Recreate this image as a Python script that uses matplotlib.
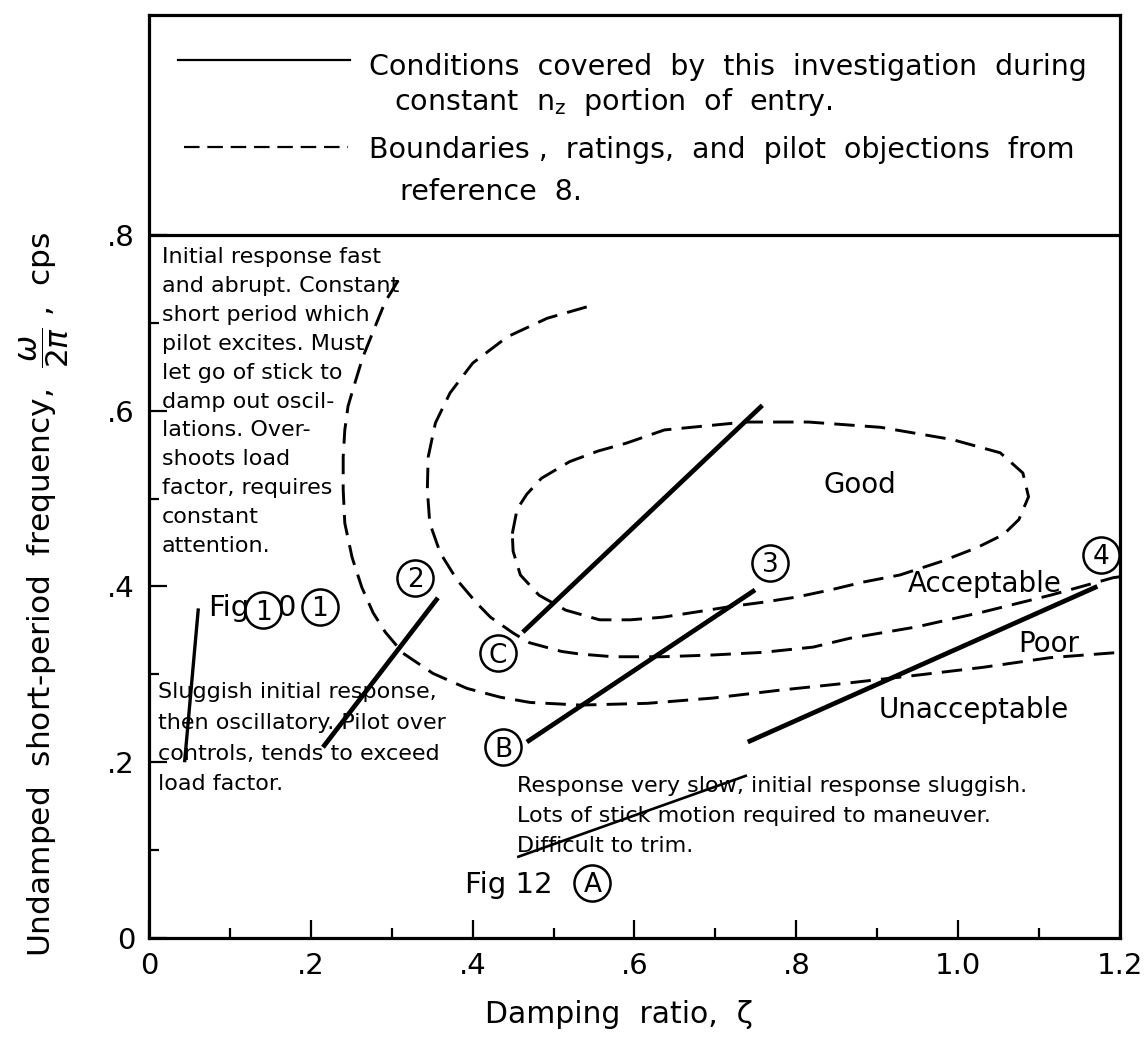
import matplotlib
matplotlib.use('Agg')
import matplotlib.pyplot as plt

plt.rcParams['font.family'] = ['DejaVu Sans']
plt.rcParams['mathtext.fontset'] = 'dejavusans'

# ---- Test-condition traces (solid lines): damping ratio vs frequency ----
trace_fig10_x = [0.044, 0.061]
trace_fig10_y = [0.200, 0.375]
trace_2_x = [0.215, 0.357]
trace_2_y = [0.217, 0.387]
trace_C_x = [0.462, 0.758]
trace_C_y = [0.348, 0.606]
trace_B_x = [0.467, 0.749]
trace_B_y = [0.223, 0.396]
trace_4_x = [0.740, 1.172]
trace_4_y = [0.223, 0.400]
trace_A_x = [0.455, 0.739]
trace_A_y = [0.092, 0.185]

# ---- Rating boundaries (dashed lines) ----
good_x = [0.449, 0.455, 0.467, 0.485, 0.520, 0.555, 0.590, 0.637, 0.737, 0.815,
          0.904, 0.993, 1.052, 1.080, 1.087, 1.075, 1.056, 1.023, 0.978, 0.928,
          0.883, 0.842, 0.801, 0.759, 0.718, 0.677, 0.635, 0.595, 0.557, 0.515,
          0.482, 0.459, 0.450, 0.449]
good_y = [0.460, 0.488, 0.505, 0.523, 0.542, 0.554, 0.563, 0.578, 0.587, 0.587,
          0.581, 0.567, 0.552, 0.529, 0.502, 0.476, 0.459, 0.444, 0.428, 0.413,
          0.405, 0.396, 0.388, 0.382, 0.377, 0.371, 0.365, 0.362, 0.362, 0.373,
          0.390, 0.413, 0.440, 0.460]

accept_x = [0.541, 0.492, 0.443, 0.400, 0.372, 0.354, 0.345, 0.344, 0.347, 0.360,
            0.381, 0.405, 0.422, 0.450, 0.470, 0.510, 0.533, 0.574, 0.635, 0.697,
            0.759, 0.821, 0.866, 0.949, 1.031, 1.114, 1.192, 1.200]
accept_y = [0.718, 0.705, 0.684, 0.654, 0.620, 0.586, 0.547, 0.510, 0.472, 0.438,
            0.407, 0.381, 0.365, 0.347, 0.336, 0.326, 0.323, 0.320, 0.320, 0.322,
            0.325, 0.331, 0.341, 0.354, 0.371, 0.390, 0.410, 0.411]

poor_x = [0.308, 0.292, 0.277, 0.264, 0.254, 0.246, 0.242, 0.240, 0.240, 0.242,
          0.251, 0.263, 0.277, 0.292, 0.314, 0.351, 0.393, 0.434, 0.471, 0.533,
          0.616, 0.697, 0.780, 0.863, 0.949, 1.031, 1.114, 1.200]
poor_y = [0.748, 0.724, 0.690, 0.660, 0.630, 0.605, 0.578, 0.547, 0.510, 0.472,
          0.433, 0.399, 0.370, 0.348, 0.324, 0.301, 0.284, 0.274, 0.268, 0.265,
          0.267, 0.273, 0.282, 0.290, 0.299, 0.308, 0.319, 0.325]

# ---- Axis ticks ----
x_ticks = [0.0, 0.2, 0.4, 0.6, 0.8, 1.0, 1.2]
x_tick_labels = ['0', '.2', '.4', '.6', '.8', '1.0', '1.2']
x_minor = [0.1, 0.3, 0.5, 0.7, 0.9, 1.1]
y_ticks = [0.0, 0.2, 0.4, 0.6, 0.8]
y_tick_labels = ['0', '.2', '.4', '.6', '.8']
y_minor = [0.1, 0.3, 0.5, 0.7]

# ---- Circled identifiers ----
circle_labels = ['1', '1', '2', '3', '4', 'C', 'B', 'A']
circle_x = [0.141, 0.211, 0.329, 0.768, 1.176, 0.431, 0.438, 0.548]
circle_y = [0.373, 0.377, 0.410, 0.427, 0.436, 0.324, 0.217, 0.063]

# ---- Pilot comment blocks ----
note_fast = ["Initial response fast",
             "and abrupt. Constant",
             "short period which",
             "pilot excites. Must",
             "let go of stick to",
             "damp out oscil-",
             "lations. Over-",
             "shoots load",
             "factor, requires",
             "constant",
             "attention."]
note_sluggish = ["Sluggish initial response,",
                 "then oscillatory. Pilot over",
                 "controls, tends to exceed",
                 "load factor."]
note_slow = ["Response very slow, initial response sluggish.",
             "Lots of stick motion required to maneuver.",
             "Difficult to trim."]

legend_lines = ["Conditions  covered  by  this  investigation  during",
                "constant  n$_{\\rm z}$  portion  of  entry.",
                "Boundaries ,  ratings,  and  pilot  objections  from",
                "reference  8."]

fig = plt.figure(figsize=(11.46, 10.44), dpi=100)
ax = fig.add_axes([0.130, 0.1015, 0.8473, 0.8841])
ax.set_xlim(0, 1.2)
ax.set_ylim(0, 1.050)

for s in ax.spines.values():
    s.set_linewidth(2.3)

dash = dict(color='black', lw=2.1, dashes=(7, 3.5))
ax.plot(good_x, good_y, **dash)
ax.plot(accept_x, accept_y, **dash)
ax.plot(poor_x, poor_y, **dash)

ax.plot(trace_fig10_x, trace_fig10_y, color='black', lw=2.4, solid_capstyle='butt')
for tx, ty in [(trace_2_x, trace_2_y), (trace_C_x, trace_C_y),
               (trace_B_x, trace_B_y), (trace_4_x, trace_4_y)]:
    ax.plot(tx, ty, color='black', lw=3.4, solid_capstyle='butt')
ax.plot(trace_A_x, trace_A_y, color='black', lw=1.9, solid_capstyle='butt')

# Legend panel above the plotting region
ax.axhline(0.8, color='black', lw=2.3)
ax.plot([0.036, 0.248], [0.999, 0.999], color='black', lw=1.6)
ax.plot([0.043, 0.246], [0.900, 0.900], color='black', lw=1.6, dashes=(7, 3.5))
leg_pos = [(0.272, 0.982), (0.303, 0.942), (0.272, 0.887), (0.310, 0.840)]
for txt, (lx, ly) in zip(legend_lines, leg_pos):
    ax.text(lx, ly, txt, fontsize=20.5, ha='left', va='baseline')

# Circled identifiers
ax.plot(circle_x, circle_y, 'o', ms=26, mfc='none', mec='black', mew=1.8, ls='none')
for lab, cx, cy in zip(circle_labels, circle_x, circle_y):
    ax.annotate(lab, (cx, cy), xytext=(0, -7.0), textcoords='offset points',
                ha='center', va='baseline', fontsize=19)

# Figure references
ax.text(0.073, 0.366, "Fig", fontsize=21, ha='left', va='baseline')
ax.text(0.158, 0.366, "0", fontsize=21, ha='left', va='baseline')
ax.text(0.391, 0.051, "Fig 12", fontsize=21, ha='left', va='baseline')

# Rating regions
ax.text(0.834, 0.506, "Good", fontsize=20, ha='left', va='baseline')
ax.text(0.938, 0.394, "Acceptable", fontsize=20, ha='left', va='baseline')
ax.text(1.074, 0.325, "Poor", fontsize=20, ha='left', va='baseline')
ax.text(0.902, 0.250, "Unacceptable", fontsize=20, ha='left', va='baseline')

# Pilot comments
def block(lines, x0, y0, step):
    for i, line in enumerate(lines):
        ax.text(x0, y0 - i * step, line, fontsize=16, ha='left', va='baseline')

block(note_fast, 0.016, 0.768, 0.0329)
block(note_sluggish, 0.011, 0.273, 0.0350)
block(note_slow, 0.455, 0.166, 0.0340)

# Axes ticks
ax.set_xticks(x_ticks)
ax.set_xticklabels(x_tick_labels)
ax.set_xticks(x_minor, minor=True)
ax.set_yticks(y_ticks)
ax.set_yticklabels(y_tick_labels)
ax.set_yticks(y_minor, minor=True)
ax.tick_params(which='both', direction='in', width=1.6, labelsize=21,
               top=False, right=False)
ax.tick_params(which='major', length=13)
ax.tick_params(which='minor', length=7)
ax.tick_params(axis='x', which='major', pad=10)
ax.tick_params(axis='y', which='major', pad=10)

ax.set_xlabel("Damping  ratio,  ζ", fontsize=21.5, va='center')
ax.xaxis.set_label_coords(0.484, -0.083)
ax.set_ylabel("Undamped  short-period  frequency,  $\\dfrac{\\omega}{2\\pi}$ ,  cps",
              fontsize=22.5, va='center')
ax.yaxis.set_label_coords(-0.108, 0.372)

fig.savefig('out.png', dpi=100)
